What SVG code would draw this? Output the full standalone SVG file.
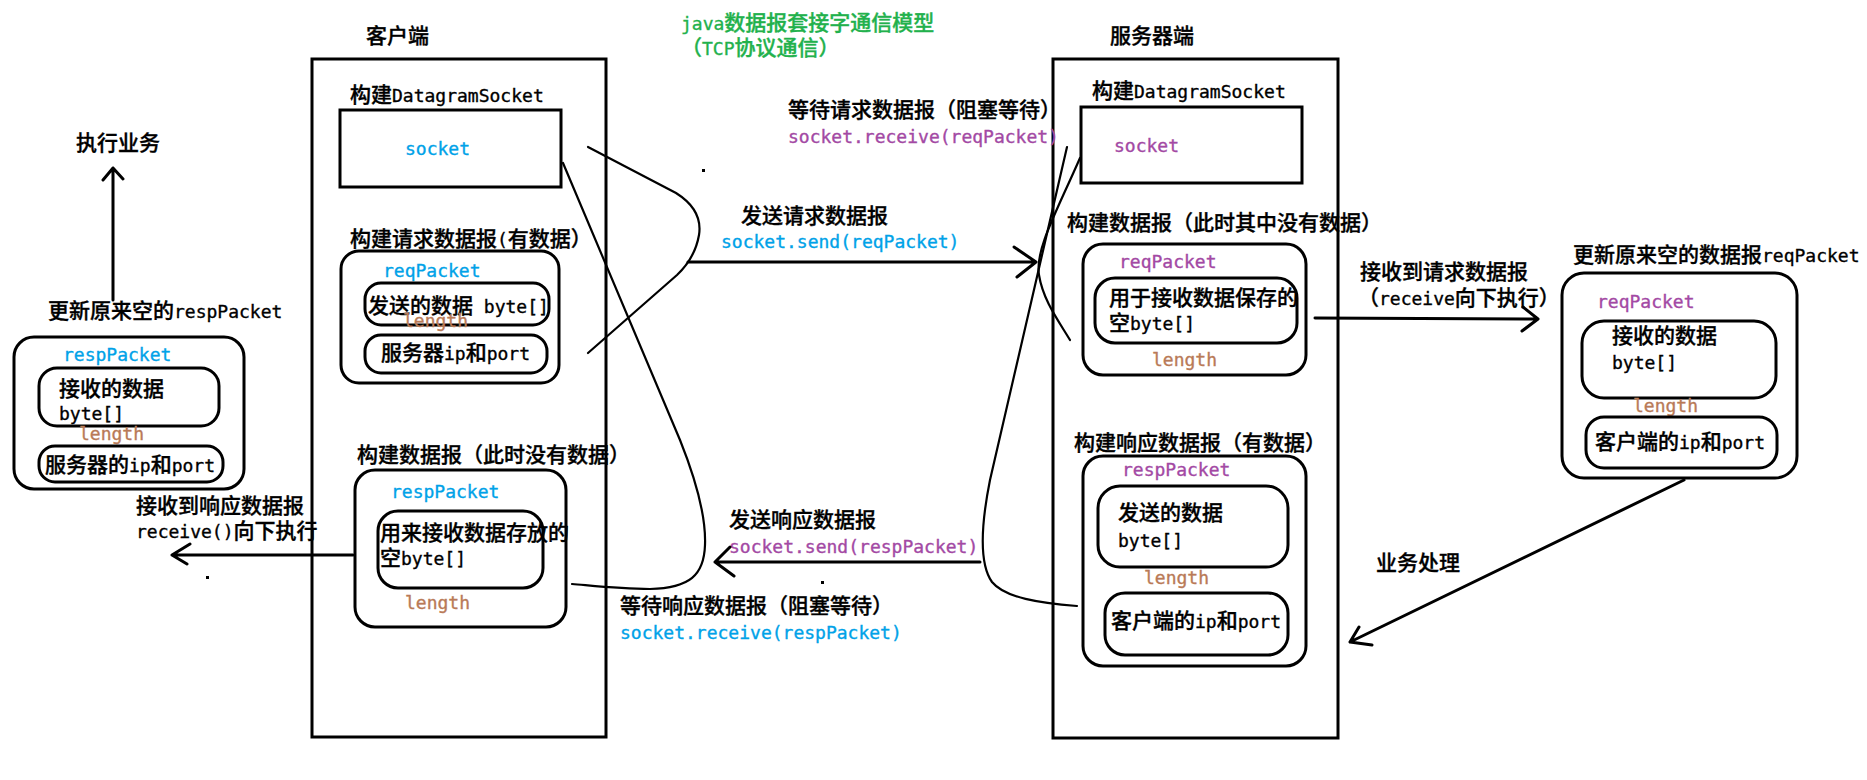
<svg xmlns="http://www.w3.org/2000/svg" width="1867" height="780" viewBox="0 0 1867 780">
<style>
text { font-family: "Noto Sans CJK SC", sans-serif; font-size: 21px; font-weight: 500; fill: #000; stroke: #000; stroke-width: 0.35px; }
.m { font-family: "DejaVu Sans Mono", "Liberation Mono", monospace; font-size: 18px; }
.blue { fill: #00a2e8; stroke: #00a2e8; }
.purple { fill: #a349a4; stroke: #a349a4; }
.brown { fill: #b97a57; stroke: #b97a57; }
.green { fill: #22b14c; stroke: #22b14c; }
.box { fill: none; stroke: #000; stroke-width: 3; }
.line { fill: none; stroke: #000; stroke-width: 3; stroke-linecap: round; stroke-linejoin: round; }
.curve { fill: none; stroke: #000; stroke-width: 2.2; stroke-linecap: round; }
</style>
<rect width="1867" height="780" fill="#fff"/>

<g id="title">
<text class="green" x="681" y="30"><tspan class="m">java</tspan>数据报套接字通信模型</text>
<text class="green" x="681" y="55">（<tspan class="m">TCP</tspan>协议通信）</text>
</g>

<g id="client">
<text x="366" y="43">客户端</text>
<rect class="box" x="312" y="59" width="294" height="678"/>
<g id="client-socket">
<text x="350" y="102">构建<tspan class="m">DatagramSocket</tspan></text>
<rect class="box" x="340" y="110" width="221" height="77"/>
<text class="m blue" x="405" y="155">socket</text>
</g>
<g id="client-reqPacket">
<text x="350" y="246">构建请求数据报<tspan class="m">(</tspan>有数据）</text>
<rect class="box" x="341" y="251" width="218" height="132" rx="18"/>
<text class="m blue" x="383" y="277">reqPacket</text>
<rect class="box" x="365" y="283" width="184" height="42" rx="16"/>
<text x="368" y="313">发送的数据<tspan class="m"> byte[]</tspan></text>
<text class="m brown" x="403" y="327">length</text>
<rect class="box" x="365" y="335" width="182" height="38" rx="16"/>
<text x="381" y="360">服务器<tspan class="m">ip</tspan>和<tspan class="m">port</tspan></text>
</g>
<g id="client-respPacket">
<text x="357" y="462">构建数据报（此时没有数据）</text>
<rect class="box" x="355" y="470" width="211" height="157" rx="20"/>
<text class="m blue" x="391" y="498">respPacket</text>
<rect class="box" x="378" y="511" width="165" height="77" rx="20"/>
<text x="380" y="540">用来接收数据存放的</text>
<text x="380" y="565">空<tspan class="m">byte[]</tspan></text>
<text class="m brown" x="405" y="609">length</text>
</g>
</g>

<g id="server">
<text x="1110" y="43">服务器端</text>
<rect class="box" x="1053" y="59" width="285" height="679"/>
<g id="server-socket">
<text x="1092" y="98">构建<tspan class="m">DatagramSocket</tspan></text>
<rect class="box" x="1081" y="107" width="221" height="76"/>
<text class="m purple" x="1114" y="152">socket</text>
</g>
<g id="server-reqPacket">
<text x="1067" y="230">构建数据报（此时其中没有数据）</text>
<rect class="box" x="1083" y="244" width="223" height="131" rx="20"/>
<text class="m purple" x="1119" y="268">reqPacket</text>
<rect class="box" x="1095" y="278" width="202" height="65" rx="20"/>
<text x="1109" y="305">用于接收数据保存的</text>
<text x="1109" y="330">空<tspan class="m">byte[]</tspan></text>
<text class="m brown" x="1152" y="366">length</text>
</g>
<g id="server-respPacket">
<text x="1074" y="450">构建响应数据报（有数据）</text>
<rect class="box" x="1083" y="456" width="223" height="210" rx="20"/>
<text class="m purple" x="1122" y="476">respPacket</text>
<rect class="box" x="1098" y="486" width="190" height="81" rx="22"/>
<text x="1118" y="520">发送的数据</text>
<text class="m" x="1118" y="547">byte[]</text>
<text class="m brown" x="1144" y="584">length</text>
<rect class="box" x="1105" y="593" width="183" height="62" rx="20"/>
<text x="1111" y="628">客户端的<tspan class="m">ip</tspan>和<tspan class="m">port</tspan></text>
</g>
</g>

<g id="updated-reqPacket">
<text x="1573" y="262">更新原来空的数据报<tspan class="m">reqPacket</tspan></text>
<rect class="box" x="1562" y="273" width="235" height="205" rx="22"/>
<text class="m purple" x="1597" y="308">reqPacket</text>
<rect class="box" x="1582" y="321" width="194" height="77" rx="22"/>
<text x="1612" y="343">接收的数据</text>
<text class="m" x="1612" y="369">byte[]</text>
<text class="m brown" x="1633" y="412">length</text>
<rect class="box" x="1586" y="417" width="191" height="51" rx="18"/>
<text x="1595" y="449">客户端的<tspan class="m">ip</tspan>和<tspan class="m">port</tspan></text>
</g>

<g id="updated-respPacket">
<text x="48" y="318">更新原来空的<tspan class="m">respPacket</tspan></text>
<rect class="box" x="14" y="337" width="230" height="152" rx="20"/>
<text class="m blue" x="63" y="361">respPacket</text>
<rect class="box" x="39" y="368" width="180" height="58" rx="18"/>
<text x="59" y="396">接收的数据</text>
<text class="m" x="59" y="420">byte[]</text>
<text class="m brown" x="79" y="440">length</text>
<rect class="box" x="39" y="446" width="184" height="36" rx="16"/>
<text x="45" y="472">服务器的<tspan class="m">ip</tspan>和<tspan class="m">port</tspan></text>
</g>

<g id="execute">
<text x="76" y="150">执行业务</text>
</g>

<g id="labels">
<text x="788" y="117">等待请求数据报（阻塞等待）</text>
<text class="m purple" x="788" y="143">socket.receive(reqPacket)</text>
<text x="741" y="223">发送请求数据报</text>
<text class="m blue" x="721" y="248">socket.send(reqPacket)</text>
<text x="729" y="527">发送响应数据报</text>
<text class="m purple" x="729" y="553">socket.send(respPacket)</text>
<text x="620" y="613">等待响应数据报（阻塞等待）</text>
<text class="m blue" x="620" y="639">socket.receive(respPacket)</text>
<text x="1360" y="279">接收到请求数据报</text>
<text x="1358" y="305">（<tspan class="m">receive</tspan>向下执行）</text>
<text x="1376" y="570">业务处理</text>
<text x="136" y="513">接收到响应数据报</text>
<text x="136" y="538"><tspan class="m">receive()</tspan>向下执行</text>
</g>

<g id="connectors">
<path class="curve" d="M588,147 L676,193 Q703,210 699,235 Q695,258 677,275 L588,353"/>
<path class="curve" d="M563,163 L680,440 C698,485 706,520 705,545 C704,575 690,588 650,589 C620,589 595,586 572,584"/>
<path class="curve" d="M1067,147 L990,480 C980,530 980,565 992,582 C1005,598 1040,603 1077,606"/>
<path class="curve" d="M1080,158 C1055,215 1035,250 1039,275 C1043,300 1058,320 1070,340"/>
<path class="line" d="M688,262 L1036,262 M1014,247 L1036,262 L1017,277"/>
<path class="line" d="M980,562 L715,562 M730,547 L715,562 L734,576"/>
<path class="line" d="M1315,318 L1538,319 M1523,307 L1538,319 L1522,331"/>
<path class="line" d="M1684,480 L1350,642 M1359,627 L1350,642 L1372,645"/>
<path class="line" d="M353,555 L172,555 M190,544 L172,555 L187,564"/>
<path class="line" d="M113,300 L113,168 M103,180 L113,168 L123,179"/>
<rect x="702" y="169" width="3" height="3" fill="#000"/>
<rect x="821" y="581" width="3" height="3" fill="#000"/>
<rect x="206" y="576" width="3" height="3" fill="#000"/>
</g>
</svg>
